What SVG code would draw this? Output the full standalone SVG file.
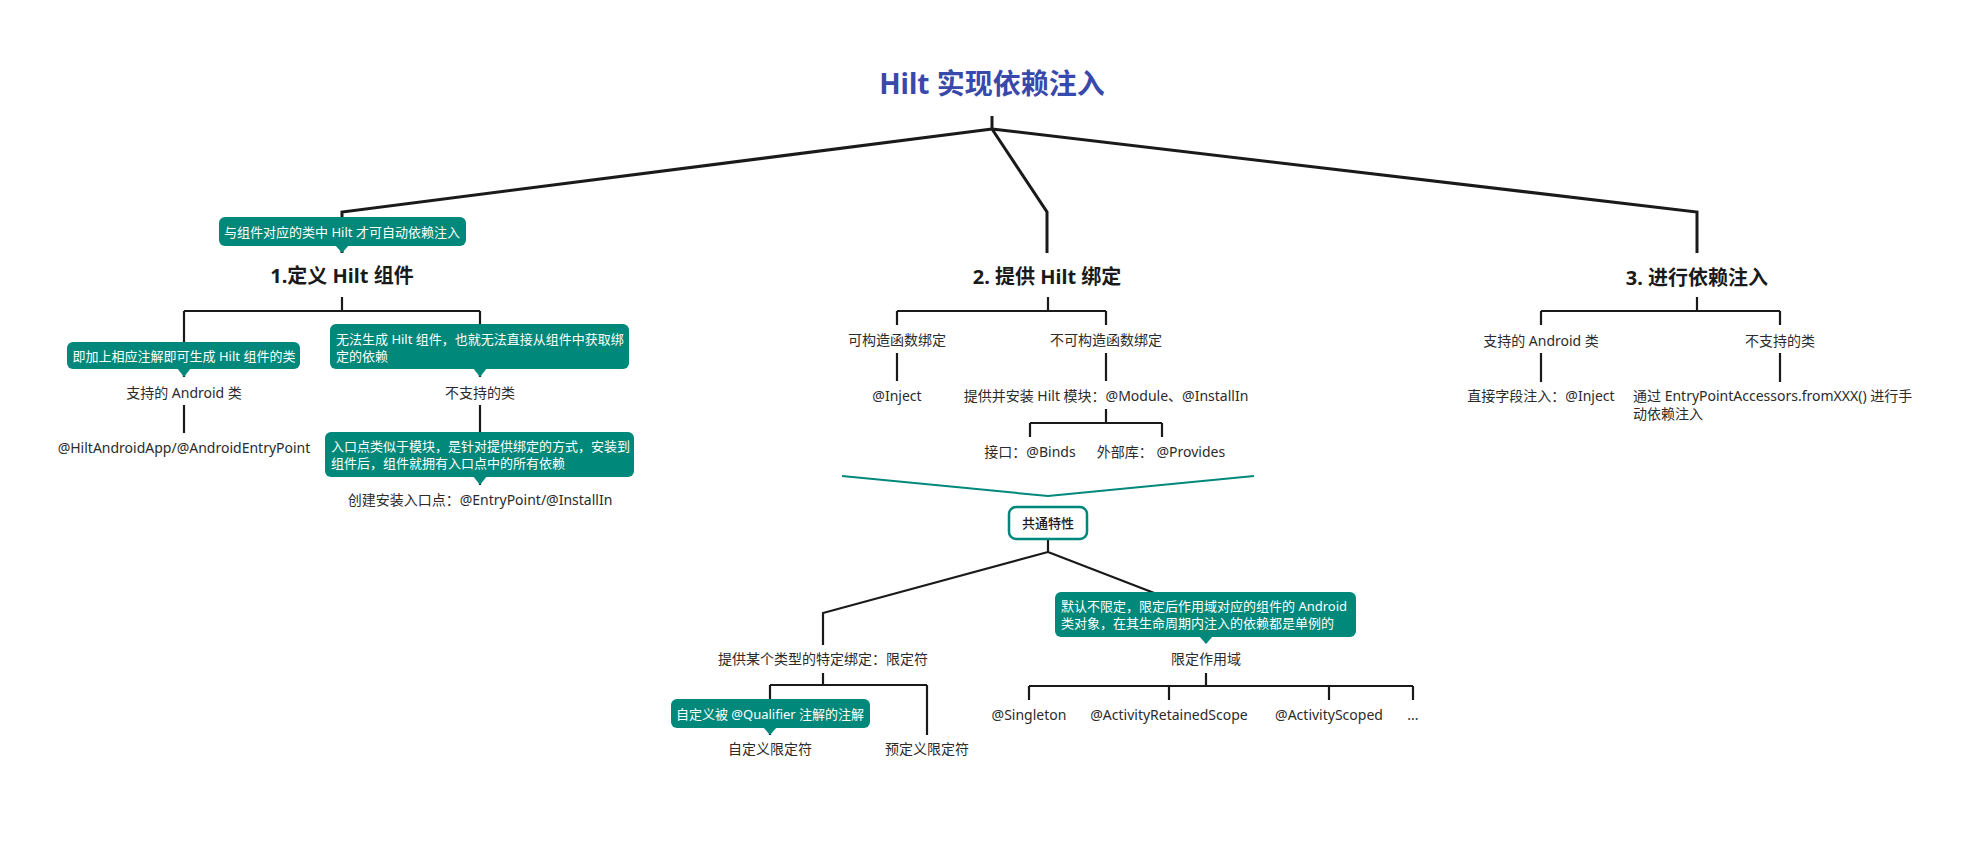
<svg xmlns="http://www.w3.org/2000/svg" width="1983" height="849" viewBox="0 0 1983 849">
<defs>
<style>
text{font-family:"Noto Sans","Noto Sans CJK SC",sans-serif;dominant-baseline:central;}
.title{font-size:28px;font-weight:700;fill:#3949ab;text-anchor:middle;}
.h1{font-size:20px;font-weight:700;fill:#1a1a1a;text-anchor:middle;}
.t{font-size:14px;fill:#2b2b2b;text-anchor:middle;}
.tl{font-size:14px;fill:#2b2b2b;text-anchor:start;}
.ct{font-size:13px;font-weight:400;fill:#ffffff;text-anchor:middle;}
.ctl{font-size:13px;font-weight:400;fill:#ffffff;text-anchor:start;}
.cb{fill:#00887a;}
.box{fill:#ffffff;stroke:#00887a;stroke-width:2.5;}
.bt{font-size:13px;font-weight:500;fill:#1a1a1a;text-anchor:middle;}
.l1{fill:none;stroke:#1a1a1a;stroke-width:3;}
.l2{fill:none;stroke:#1a1a1a;stroke-width:2.2;}
.lt{fill:none;stroke:#00887a;stroke-width:2;}
</style>
</defs>
<rect width="1983" height="849" fill="#ffffff"/>

<g id="connectors">
<path class="l1" d="M992,116 V129 M992,129 L342,212 V253 M992,129 L1047,212 V253 M992,129 L1697,212 V253"/>
<path class="l2" d="M342,297 V311 M184,311 H480 M184,311 V377 M480,311 V377 M184,405 V433 M480,405 V485"/>
<path class="l2" d="M1048,297 V311 M897,311 H1106 M897,311 V325 M1106,311 V325 M897,353 V381 M1106,353 V381 M1106,409 V423 M1030,423 H1162 M1030,423 V437 M1162,423 V437"/>
<path class="l2" d="M1697,297 V311 M1541,311 H1780 M1541,311 V325 M1780,311 V325 M1541,353 V382 M1780,353 V382"/>
<path class="lt" d="M842,476 L1048,496 L1254,476"/>
<path class="l2" d="M1048,539 V552 L823,613 V645 M1048,552 L1206,613 V643"/>
<path class="l2" d="M823,673 V685 M770,685 H927 M770,685 V735 M927,685 V735"/>
<path class="l2" d="M1206,673 V686 M1029,686 H1413 M1029,686 V700 M1169,686 V700 M1329,686 V700 M1413,686 V700"/>
</g>

<g id="root"><text class="title" x="992" y="83">Hilt 实现依赖注入</text></g>

<g id="n1">
<rect class="cb" x="219" y="217" width="247" height="29" rx="6"/>
<path class="cb" d="M335,245 L349,245 L342,253 Z"/>
<text class="ct" x="342" y="231.5">与组件对应的类中 Hilt 才可自动依赖注入</text>
<text class="h1" x="342" y="275">1.定义 Hilt 组件</text>
</g>
<g id="n1a">
<rect class="cb" x="67" y="342" width="233" height="27" rx="6"/>
<path class="cb" d="M177,368 L191,368 L184,377 Z"/>
<text class="ct" x="184" y="355.5">即加上相应注解即可生成 Hilt 组件的类</text>
<text class="t" x="184" y="392">支持的 Android 类</text>
</g>
<g id="n1a1"><text class="t" x="184" y="447">@HiltAndroidApp/@AndroidEntryPoint</text></g>
<g id="n1b">
<rect class="cb" x="330" y="324" width="299" height="45" rx="6"/>
<path class="cb" d="M473,368 L487,368 L480,377 Z"/>
<text class="ctl" x="336" y="339">无法生成 Hilt 组件，也就无法直接从组件中获取绑</text>
<text class="ctl" x="336" y="356">定的依赖</text>
<text class="t" x="480" y="392">不支持的类</text>
</g>
<g id="n1b1">
<rect class="cb" x="325" y="432" width="309" height="45" rx="6"/>
<path class="cb" d="M473,476 L487,476 L480,485 Z"/>
<text class="ctl" x="331" y="446">入口点类似于模块，是针对提供绑定的方式，安装到</text>
<text class="ctl" x="331" y="463">组件后，组件就拥有入口点中的所有依赖</text>
<text class="t" x="480" y="499">创建安装入口点：@EntryPoint/@InstallIn</text>
</g>

<g id="n2"><text class="h1" x="1047" y="276">2. 提供 Hilt 绑定</text></g>
<g id="n2a"><text class="t" x="897" y="339">可构造函数绑定</text></g>
<g id="n2a1"><text class="t" x="897" y="395">@Inject</text></g>
<g id="n2b"><text class="t" x="1106" y="339">不可构造函数绑定</text></g>
<g id="n2b1"><text class="t" x="1106" y="395">提供并安装 Hilt 模块：@Module、@InstallIn</text></g>
<g id="n2b1a"><text class="t" x="1030" y="451">接口：@Binds</text></g>
<g id="n2b1b"><text class="t" x="1161" y="451">外部库： @Provides</text></g>

<g id="common">
<rect class="box" x="1009" y="507" width="78" height="32" rx="7"/>
<text class="bt" x="1048" y="523">共通特性</text>
</g>
<g id="c1"><text class="t" x="823" y="658">提供某个类型的特定绑定：限定符</text></g>
<g id="c1a">
<rect class="cb" x="671" y="699" width="199" height="29" rx="6"/>
<path class="cb" d="M763,727 L777,727 L770,735 Z"/>
<text class="ct" x="770" y="713.5">自定义被 @Qualifier 注解的注解</text>
<text class="t" x="770" y="748">自定义限定符</text>
</g>
<g id="c1b"><text class="t" x="927" y="748">预定义限定符</text></g>
<g id="c2">
<rect class="cb" x="1055" y="592" width="301" height="45" rx="6"/>
<path class="cb" d="M1199,636 L1213,636 L1206,644 Z"/>
<text class="ctl" x="1061" y="606">默认不限定，限定后作用域对应的组件的 Android</text>
<text class="ctl" x="1061" y="623">类对象，在其生命周期内注入的依赖都是单例的</text>
<text class="t" x="1206" y="658">限定作用域</text>
</g>
<g id="c2a"><text class="t" x="1029" y="714">@Singleton</text></g>
<g id="c2b"><text class="t" x="1169" y="714">@ActivityRetainedScope</text></g>
<g id="c2c"><text class="t" x="1329" y="714">@ActivityScoped</text></g>
<g id="c2d"><text class="t" x="1413" y="714">...</text></g>

<g id="n3"><text class="h1" x="1697" y="277">3. 进行依赖注入</text></g>
<g id="n3a"><text class="t" x="1541" y="340">支持的 Android 类</text></g>
<g id="n3a1"><text class="t" x="1541" y="395">直接字段注入：@Inject</text></g>
<g id="n3b"><text class="t" x="1780" y="340">不支持的类</text></g>
<g id="n3b1">
<text class="tl" x="1633" y="395">通过 EntryPointAccessors.fromXXX() 进行手</text>
<text class="tl" x="1633" y="413">动依赖注入</text>
</g>
</svg>
